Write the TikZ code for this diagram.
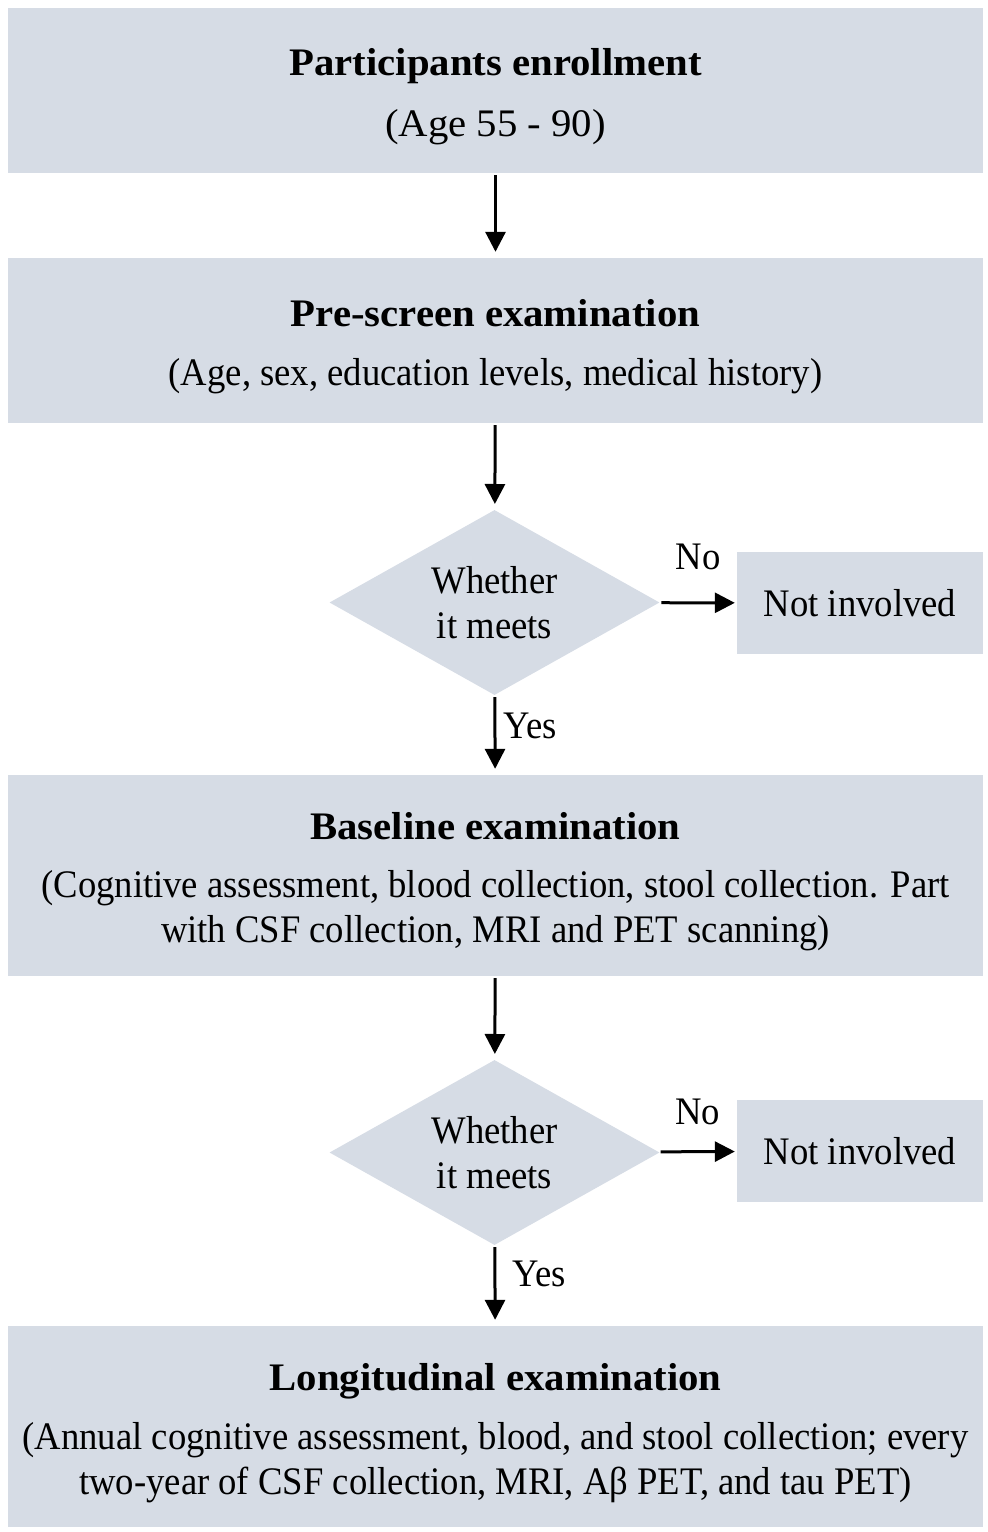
\documentclass[tikz,border=0pt]{standalone}
\usepackage{fontspec}
\setmainfont{Liberation Serif}[FakeStretch=0.94]
\newfontfamily\headfont{Liberation Serif}[FakeStretch=1.045]
\usetikzlibrary{shapes.geometric,arrows.meta}
\definecolor{boxfill}{HTML}{D6DCE5}
\newcommand{\head}[1]{\rule{0pt}{40pt}{\headfont\bfseries #1}}
\tikzset{
	box/.style={rectangle,fill=boxfill,minimum width=975pt,align=center,inner sep=0pt},
	dec/.style={diamond,fill=boxfill,minimum width=330pt,minimum height=185pt,aspect=1.78,inner sep=0pt,align=center},
	outbox/.style={rectangle,fill=boxfill,minimum width=246pt,minimum height=102pt,inner sep=0pt},
	flow/.style={-{Triangle[width=20pt,length=20pt]},line width=3pt,shorten <=2pt,shorten >=6pt},
	lab/.style={inner sep=0pt}
}
\begin{document}
\begin{tikzpicture}[x=1pt,y=-1pt,font=\fontsize{39}{45}\selectfont]
	\useasboundingbox (0,0) rectangle (988,1532);
	\node[box,minimum height=165pt] (enrol) at (495.5,90.5) {\head{Participants enrollment}\\[16pt]{\headfont(Age 55 - 90)}};
	\node[box,minimum height=165pt] (prescr) at (495.5,340.5) {\head{Pre-screen examination}\\[14pt](Age, sex, education levels, medical history)};
	\node[dec] (meet1) at (494.5,602.5) {Whether\\it meets};
	\node[outbox] (out1) at (860,603) {Not involved};
	\node[box,minimum height=201pt] (base) at (495.5,875.5) {\head{Baseline examination}\\[13pt](Cognitive assessment, blood collection, stool collection. Part\\with CSF collection, MRI and PET scanning)};
	\node[dec] (meet2) at (494.5,1152.5) {Whether\\it meets};
	\node[outbox] (out2) at (860,1151) {Not involved};
	\node[box,minimum height=201pt] (longi) at (495.5,1426.5) {\head{Longitudinal examination}\\[14pt](Annual cognitive assessment, blood, and stool collection; every\\two-year of CSF collection, MRI, Aβ PET, and tau PET)};
	\draw[flow] (enrol) -- (prescr);
	\draw[flow] (prescr) -- (meet1);
	\draw[flow,shorten >=2pt] (meet1) -- node[lab,above=31pt] {No} (out1);
	\draw[flow] (meet1) -- node[lab,right=7pt,yshift=9pt] {Yes} (base);
	\draw[flow] (base) -- (meet2);
	\draw[flow,shorten >=2pt] (meet2) -- node[lab,above=25pt] {No} (out2);
	\draw[flow] (meet2) -- node[lab,right=16pt,yshift=12pt] {Yes} (longi);
\end{tikzpicture}
\end{document}
